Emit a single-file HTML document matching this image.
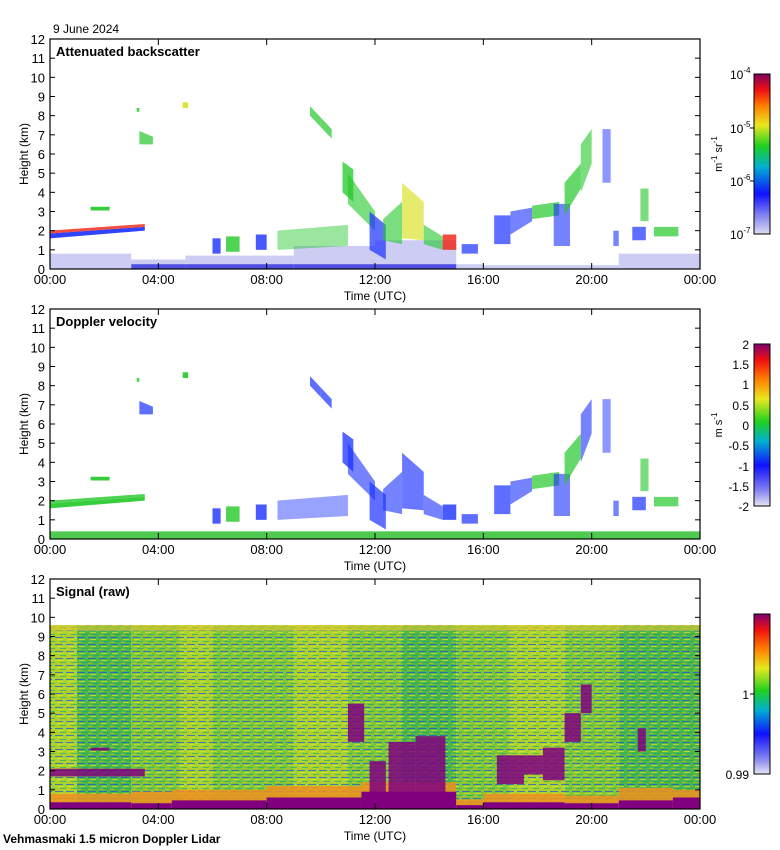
<!DOCTYPE html>
<html><head><meta charset="utf-8">
<style>
body{margin:0;background:#fff;}
svg{display:block;font-family:"Liberation Sans",sans-serif;}
text{fill:#000;}
</style></head>
<body>
<svg id="fig" width="780" height="850" xmlns="http://www.w3.org/2000/svg">
<defs>
<linearGradient id="cb1" x1="0" y1="1" x2="0" y2="0">
<stop offset="0" stop-color="#dcdcf2"/><stop offset="0.12" stop-color="#8080f0"/><stop offset="0.25" stop-color="#1010ff"/><stop offset="0.42" stop-color="#00b0d0"/><stop offset="0.55" stop-color="#20d020"/><stop offset="0.68" stop-color="#e8e820"/><stop offset="0.8" stop-color="#ff8000"/><stop offset="0.9" stop-color="#f01010"/><stop offset="1" stop-color="#800060"/></linearGradient>
<linearGradient id="cb2" x1="0" y1="1" x2="0" y2="0">
<stop offset="0" stop-color="#e4e4f4"/><stop offset="0.1" stop-color="#8080f0"/><stop offset="0.25" stop-color="#1010ff"/><stop offset="0.4" stop-color="#00b0d0"/><stop offset="0.52" stop-color="#20d020"/><stop offset="0.66" stop-color="#e8e820"/><stop offset="0.78" stop-color="#ff8000"/><stop offset="0.9" stop-color="#f01010"/><stop offset="1" stop-color="#800070"/></linearGradient>
<pattern id="stripes" width="11" height="7" patternUnits="userSpaceOnUse">
<rect x="0" y="0" width="8" height="1" fill="#2050e0" opacity="0.7"/>
<rect x="2" y="2" width="6" height="1" fill="#e8e030" opacity="0.7"/>
<rect x="5" y="4" width="6" height="1" fill="#10a080" opacity="0.6"/>
<rect x="0" y="5" width="4" height="1" fill="#f0b020" opacity="0.6"/>
</pattern>
</defs>
<g id="marks"></g>
<g id="axes"></g>
<text x="53" y="33" font-size="12">9 June 2024</text>
<text x="3" y="843" font-size="12" font-weight="bold">Vehmasmaki 1.5 micron Doppler Lidar</text>
</svg>
<script>
// ---------- data ----------
const panelTops = [39, 309, 579];
const panelTitles = ["Attenuated backscatter", "Doppler velocity", "Signal (raw)"];
const xTickHours = [0, 4, 8, 12, 16, 20, 24];
const xTickLabels = ["00:00","04:00","08:00","12:00","16:00","20:00","00:00"];
const yTicks = [0,1,2,3,4,5,6,7,8,9,10,11,12];
// cloud segments: start hour, end hour, base@start, top@start, base@end, top@end
const cloudT0 = [0.0,0.0,1.5,3.3,3.2,4.9,6.0,6.5,7.6,8.4,9.6,10.0,10.8,11.0,11.8,12.3,13.0,13.8,14.5,15.2,16.4,17.0,17.8,18.6,19.0,19.6,20.4,20.8,21.5,21.8,22.3];
const cloudT1 = [3.5,3.5,2.2,3.8,3.3,5.1,6.3,7.0,8.0,11.0,10.0,10.4,11.2,12.0,12.4,13.0,13.8,14.5,15.0,15.8,17.0,17.8,18.8,19.2,19.6,20.0,20.7,21.0,22.0,22.1,23.2];
const cloudB0 = [1.6,1.85,3.05,6.5,8.2,8.4,0.8,0.9,1.0,1.0,8.0,7.4,4.0,3.4,1.0,1.5,1.6,1.3,1.0,0.8,1.3,1.8,2.6,1.2,2.8,4.0,4.5,1.2,1.5,2.5,1.7];
const cloudH0 = [1.85,2.0,3.25,7.2,8.4,8.7,1.6,1.7,1.8,2.0,8.5,7.9,5.6,5.0,3.0,2.6,4.5,2.3,1.8,1.3,2.8,3.0,3.3,3.4,4.5,6.5,7.3,2.0,2.2,4.2,2.2];
const cloudB1 = [2.0,2.2,3.05,6.5,8.2,8.4,0.8,0.9,1.0,1.2,7.4,6.8,3.5,2.0,0.5,1.3,1.5,1.0,1.0,0.8,1.3,2.5,2.8,1.2,4.2,5.5,4.5,1.2,1.5,2.5,1.7];
const cloudH1 = [2.2,2.35,3.25,6.9,8.4,8.7,1.6,1.7,1.8,2.3,7.9,7.3,5.2,3.0,2.3,3.5,3.5,1.7,1.8,1.3,2.8,3.2,3.5,3.4,5.5,7.3,7.3,2.0,2.2,4.2,2.2];
const cloudBsc = ["blue","red","green","green","green","yellow","blue","green","blue","green","green","green","green","green","blue","green","yellow","green","red","blue","blue","blue","green","blue","green","green","blue","blue","blue","green","green"];
const cloudVel = ["green","green","green","blue","green","green","blue","green","blue","blue","blue","blue","blue","blue","blue","blue","blue","blue","blue","blue","blue","blue","green","blue","green","blue","blue","blue","blue","green","green"];
// fill density per cloud (sparseness)
const cloudFill = [0.9,0.8,0.9,0.7,0.8,0.9,0.8,0.8,0.8,0.45,0.7,0.7,0.75,0.6,0.7,0.6,0.65,0.6,0.8,0.7,0.7,0.6,0.7,0.6,0.7,0.6,0.5,0.6,0.7,0.6,0.7];
// near-surface aerosol layer (backscatter panel): start hour, end hour, top km
const fogT0 = [0,3,5,9,12,15,16,21];
const fogT1 = [3,5,9,12,15,16,21,24];
const fogTop = [0.8,0.5,0.7,1.2,1.5,0.25,0.2,0.8];
// surface layer heights (signal panel): purple and orange tops
const sfcT0 = [0,3,4.5,8,11.5,15,16,19,21,23];
const sfcT1 = [3,4.5,8,11.5,15,16,19,21,23,24];
const sfcPurple = [0.35,0.3,0.45,0.6,0.9,0.2,0.35,0.3,0.45,0.6];
const sfcOrange = [0.8,0.9,1.0,1.2,1.4,0.5,0.8,0.7,1.1,1.0];
// signal panel background tone blocks: start, end, tone (0 blue-green,1 green,2 yellow-green)
const bgT0 = [0,1,3,4.8,6,9,11,13,15,17,19,21];
const bgT1 = [1,3,4.8,6,9,11,13,15,17,19,21,24];
const bgTone = [2,0,1,2,1,2,1,0,1,2,1,0];
// purple cloud signal regions
const sigT0 = [0,1.5,11.0,11.8,12.5,13.5,16.5,17.5,18.2,19.0,19.6,21.7];
const sigT1 = [3.5,2.2,11.6,12.4,13.5,14.6,17.5,18.2,19.0,19.6,20.0,22.0];
const sigB = [1.7,3.05,3.5,0.4,0.8,0.8,1.3,1.8,1.5,3.5,5.0,3.0];
const sigH = [2.1,3.2,5.5,2.5,3.5,3.8,2.8,2.8,3.2,5.0,6.5,4.2];

// ---------- helpers ----------
const SVGNS = "http://www.w3.org/2000/svg";
const X0 = 50, X1 = 700, PH = 230;
function xs(h){ return X0 + h*(X1-X0)/24; }
function ys(top, km){ return top + PH - km*PH/12; }
const palette = {blue:"#1a30ff", green:"#22c828", yellow:"#d8e020", red:"#f02010", cyan:"#10b8b0"};
function mk(tag, attrs, parent){
  const e = document.createElementNS(SVGNS, tag);
  for (const k in attrs) e.setAttribute(k, attrs[k]);
  parent.appendChild(e); return e;
}
const marks = document.getElementById("marks");
const axes = document.getElementById("axes");

// ---------- panel 1 ----------
(function(){
  const T = panelTops[0];
  for (let i=0;i<fogT0.length;i++){
    const r = mk("rect",{x:xs(fogT0[i]),y:ys(T,fogTop[i]),width:xs(fogT1[i])-xs(fogT0[i]),height:ys(T,0)-ys(T,fogTop[i]),fill:"#b8b8f0",opacity:0.7},marks);
    
    
    if (fogT0[i]>=3 && fogT1[i]<=15){
      const d = mk("rect",{x:xs(fogT0[i]),y:ys(T,0.25),width:xs(fogT1[i])-xs(fogT0[i]),height:ys(T,0)-ys(T,0.25),fill:"#3030e0",opacity:0.8},marks);
      
      
    }
  }
  for (let i=0;i<cloudT0.length;i++){
    const pts = [[cloudT0[i],cloudB0[i]],[cloudT0[i],cloudH0[i]],[cloudT1[i],cloudH1[i]],[cloudT1[i],cloudB1[i]]].map(p=>xs(p[0])+","+ys(T,p[1])).join(" ");
    const p = mk("polygon",{points:pts,fill:palette[cloudBsc[i]],opacity:cloudFill[i]},marks);
    
    
  }
})();

// ---------- panel 2 ----------
(function(){
  const T = panelTops[1];
  const s = mk("rect",{x:xs(0),y:ys(T,0.4),width:xs(24)-xs(0),height:ys(T,0)-ys(T,0.4),fill:"#30c030",opacity:0.85},marks);
  
  
  for (let i=0;i<cloudT0.length;i++){
    const pts = [[cloudT0[i],cloudB0[i]],[cloudT0[i],cloudH0[i]],[cloudT1[i],cloudH1[i]],[cloudT1[i],cloudB1[i]]].map(p=>xs(p[0])+","+ys(T,p[1])).join(" ");
    const p = mk("polygon",{points:pts,fill:palette[cloudVel[i]],opacity:cloudFill[i]},marks);
    
    
  }
})();

// ---------- panel 3 ----------
(function(){
  const T = panelTops[2];
  const tones = ["#4cb848","#7cc838","#a8d430"];
  for (let i=0;i<bgT0.length;i++){
    const r = mk("rect",{x:xs(bgT0[i]),y:ys(T,9.6),width:xs(bgT1[i])-xs(bgT0[i]),height:ys(T,0)-ys(T,9.6),fill:tones[bgTone[i]]},marks);
    
    
  }
  const st = mk("rect",{x:xs(0),y:ys(T,9.6),width:xs(24)-xs(0),height:ys(T,0)-ys(T,9.6),fill:"url(#stripes)"},marks);
  
  
  const tb = mk("rect",{x:xs(0),y:ys(T,9.6),width:xs(24)-xs(0),height:6,fill:"#e0c830",opacity:0.6},marks);
  
  
  for (let i=0;i<sfcT0.length;i++){
    const o = mk("rect",{x:xs(sfcT0[i]),y:ys(T,sfcOrange[i]),width:xs(sfcT1[i])-xs(sfcT0[i]),height:ys(T,0)-ys(T,sfcOrange[i]),fill:"#f09020",opacity:0.85},marks);
    
    
    const p = mk("rect",{x:xs(sfcT0[i]),y:ys(T,sfcPurple[i]),width:xs(sfcT1[i])-xs(sfcT0[i]),height:ys(T,0)-ys(T,sfcPurple[i]),fill:"#800080"},marks);
    
    
  }
  for (let i=0;i<sigT0.length;i++){
    const r = mk("rect",{x:xs(sigT0[i]),y:ys(T,sigH[i]),width:xs(sigT1[i])-xs(sigT0[i]),height:ys(T,sigB[i])-ys(T,sigH[i]),fill:"#800080",opacity:0.85},marks);
    
    
  }
})();

// ---------- axes ----------
panelTops.forEach(function(T, pi){
  const f = mk("rect",{x:X0,y:T,width:X1-X0,height:PH,fill:"none",stroke:"#000","stroke-width":1.2},axes);
  
  
  yTicks.forEach(function(v){
    const yy = ys(T,v);
    mk("line",{x1:X0,y1:yy,x2:X0+5,y2:yy,stroke:"#000"},axes);
    mk("line",{x1:X1,y1:yy,x2:X1-5,y2:yy,stroke:"#000"},axes);
    const t = mk("text",{x:X0-5,y:yy+5,"font-size":13,"text-anchor":"end"},axes);
    t.textContent = v;
    
    
  });
  xTickHours.forEach(function(h,i){
    const xx = xs(h);
    mk("line",{x1:xx,y1:T,x2:xx,y2:T+6,stroke:"#000"},axes);
    mk("line",{x1:xx,y1:T+PH,x2:xx,y2:T+PH-6,stroke:"#000"},axes);
    const t = mk("text",{x:xx,y:T+PH+15,"font-size":13,"text-anchor":"middle"},axes);
    t.textContent = xTickLabels[i];
    
    
  });
  const xt = mk("text",{x:375,y:T+PH+31,"font-size":12,"text-anchor":"middle"},axes);
  xt.textContent = "Time (UTC)";
  
  
  const yt = mk("text",{x:0,y:0,"font-size":12,"text-anchor":"middle",transform:"translate(28,"+(T+PH/2)+") rotate(-90)"},axes);
  yt.textContent = "Height (km)";
  
  
  const tt = mk("text",{x:56,y:T+17,"font-size":13,"font-weight":"bold"},axes);
  tt.textContent = panelTitles[pi];
  
  
});
</script>
<svg style="position:absolute;left:0;top:0" width="780" height="850" xmlns="http://www.w3.org/2000/svg">
<g>
<rect x="754" y="74" width="16" height="160" fill="url(#cb1)" stroke="#000"/>
<line x1="750" y1="128" x2="754" y2="128" stroke="#000"/><line x1="750" y1="181" x2="754" y2="181" stroke="#000"/>
<text x="730" y="79" font-size="12">10<tspan font-size="8" dy="-6">-4</tspan></text>
<text x="730" y="133" font-size="12">10<tspan font-size="8" dy="-6">-5</tspan></text>
<text x="730" y="186" font-size="12">10<tspan font-size="8" dy="-6">-6</tspan></text>
<text x="730" y="239" font-size="12">10<tspan font-size="8" dy="-6">-7</tspan></text>
<text font-size="11" text-anchor="middle" transform="translate(722,154) rotate(-90)">m<tspan font-size="8" dy="-5">-1</tspan><tspan dy="5"> sr</tspan><tspan font-size="8" dy="-5">-1</tspan></text>
</g>
<g>
<rect x="754" y="344" width="16" height="162" fill="url(#cb2)" stroke="#000"/>
<text x="749" y="349" font-size="12" text-anchor="end">2</text>
<text x="749" y="369" font-size="12" text-anchor="end">1.5</text>
<text x="749" y="389" font-size="12" text-anchor="end">1</text>
<text x="749" y="410" font-size="12" text-anchor="end">0.5</text>
<text x="749" y="430" font-size="12" text-anchor="end">0</text>
<text x="749" y="450" font-size="12" text-anchor="end">-0.5</text>
<text x="749" y="471" font-size="12" text-anchor="end">-1</text>
<text x="749" y="491" font-size="12" text-anchor="end">-1.5</text>
<text x="749" y="511" font-size="12" text-anchor="end">-2</text>
<text font-size="11" text-anchor="middle" transform="translate(722,425) rotate(-90)">m s<tspan font-size="8" dy="-5">-1</tspan></text>
</g>
<g>
<rect x="754" y="614" width="16" height="160" fill="url(#cb2)" stroke="#000"/>
<line x1="750" y1="694" x2="754" y2="694" stroke="#000"/>
<text x="749" y="699" font-size="12" text-anchor="end">1</text>
<text x="749" y="779" font-size="12" text-anchor="end">0.99</text>
</g>
</svg>
</body></html>
